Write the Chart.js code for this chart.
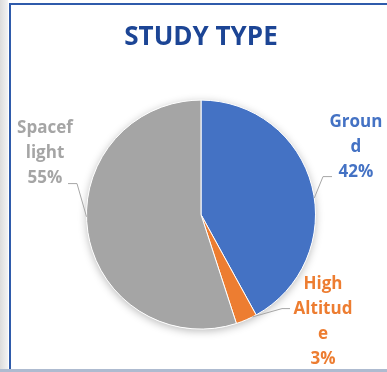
<!DOCTYPE html>
<html>
<head>
<meta charset="utf-8">
<script src="https://cdn.jsdelivr.net/npm/chart.js@4/dist/chart.umd.min.js"></script>
<style>
    body { margin: 0; background: #fff; }
    #wrap { position: relative; width: 387px; height: 372px; overflow: hidden; background: #fff; }
    #strip { position: absolute; left: 0; top: 0; width: 8px; height: 372px;
             background: linear-gradient(to right, #dcdcdc, #f3f3f3); }
    #frame { position: absolute; left: 9px; top: 3px; width: 400px; height: 366px;
             border-left: 2px solid #2f5bab; border-top: 2px solid #2f5bab; }
    #base { position: absolute; left: 0; top: 369px; width: 387px; height: 3px; background: #aebbd0; }
    canvas { position: absolute; left: 0; top: 0; }
</style>
</head>
<body>
<div id="wrap">
    <div id="strip"></div>
    <div id="frame"></div>
    <div id="base"></div>
    <canvas id="studyChart" width="387" height="372"></canvas>
</div>
<script>
const categories = ['Ground', 'High Altitude', 'Spaceflight'];
const shares = [42, 3, 55];
const wrappedNames = [['Groun', 'd'], ['High', 'Altitud', 'e'], ['Spacef', 'light']];
const sliceColors = ['#4472c4', '#ed7d31', '#a5a5a5'];

// label placement around the pie, offsets from its centre
// tip = where the leader touches the rim, as a fraction of the slice's sweep
const labelSpots = [
    { dx: 155, dy: -88, elbow: [122, -38], tail: [131, -38], tip: 0.54 },
    { dx: 122, dy: 74, elbow: [81, 94], tail: [89, 94], tip: 0.2 },
    { dx: -156, dy: -82, elbow: [-124, -31], tail: [-133, -31], tip: 0.54 }
];

const pieShadow = {
    id: 'pieShadow',
    beforeDatasetsDraw(chart) {
        const arc = chart.getDatasetMeta(0).data[0];
        if (!arc) return;
        const ctx = chart.ctx;
        ctx.save();
        ctx.shadowColor = 'rgba(0,0,0,0.28)';
        ctx.shadowBlur = 9;
        ctx.shadowOffsetY = 2;
        ctx.fillStyle = '#ffffff';
        ctx.beginPath();
        ctx.arc(arc.x, arc.y, arc.outerRadius, 0, Math.PI * 2);
        ctx.fill();
        ctx.restore();
    }
};

const sliceLabels = {
    id: 'sliceLabels',
    afterDatasetsDraw(chart) {
        const ctx = chart.ctx;
        const arcs = chart.getDatasetMeta(0).data;
        arcs.forEach((arc, i) => {
            const spot = labelSpots[i];
            const cx = arc.x, cy = arc.y;
            const a = arc.startAngle + (arc.endAngle - arc.startAngle) * spot.tip;
            const r = arc.outerRadius;

            ctx.save();
            ctx.strokeStyle = '#a6a6a6';
            ctx.lineWidth = 1;
            ctx.beginPath();
            ctx.moveTo(cx + Math.cos(a) * r, cy + Math.sin(a) * r);
            ctx.lineTo(cx + spot.elbow[0], cy + spot.elbow[1]);
            ctx.lineTo(cx + spot.tail[0], cy + spot.tail[1]);
            ctx.stroke();

            const lines = wrappedNames[i].concat([shares[i] + '%']);
            ctx.fillStyle = sliceColors[i];
            ctx.font = 'bold 17px "Open Sans"';
            ctx.textAlign = 'center';
            ctx.textBaseline = 'alphabetic';
            lines.forEach((txt, k) => {
                ctx.fillText(txt, cx + spot.dx, cy + spot.dy + k * 25);
            });
            ctx.restore();
        });
    }
};

const chart = new Chart(document.getElementById('studyChart').getContext('2d'), {
    type: 'pie',
    data: {
        labels: categories,
        datasets: [{
            data: shares,
            backgroundColor: sliceColors,
            borderColor: '#ffffff',
            borderWidth: 1
        }]
    },
    options: {
        responsive: false,
        animation: false,
        layout: {
            padding: { left: 86, right: 71, top: 0, bottom: 42 }
        },
        plugins: {
            legend: { display: false },
            tooltip: { enabled: false },
            title: {
                display: true,
                text: 'STUDY TYPE',
                color: '#1c4595',
                font: { family: 'Open Sans', size: 26, weight: 'bold' },
                padding: { top: 22, bottom: 46 }
            }
        }
    },
    plugins: [pieShadow, sliceLabels]
});
</script>
</body>
</html>
